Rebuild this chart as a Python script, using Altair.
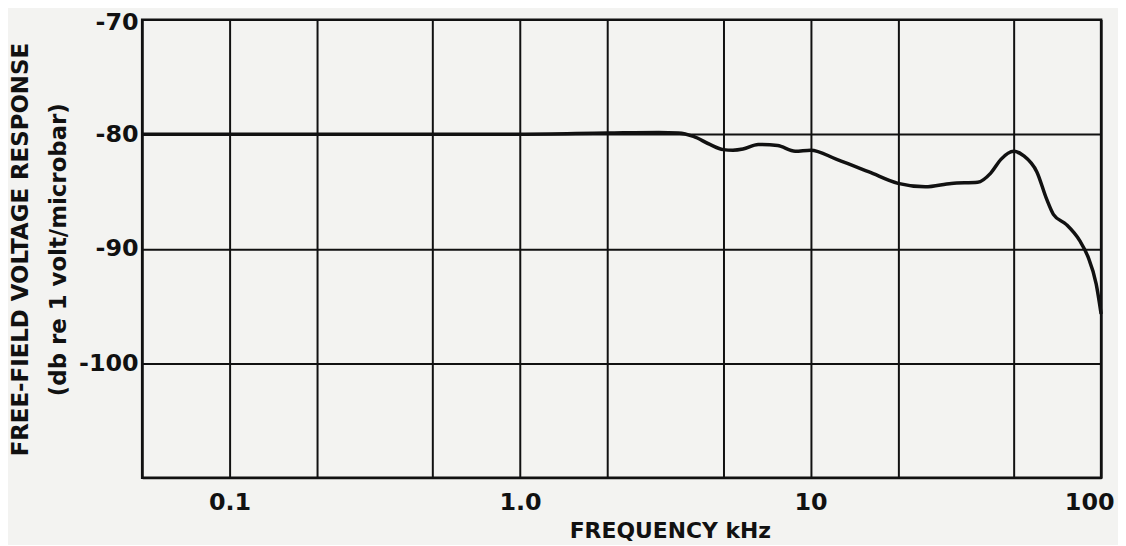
import altair as alt
import pandas as pd

# Curve (frequency in kHz, response in dB)
freq_khz = [0.05, 0.1, 0.5, 1.0, 2.0, 3.0, 3.5, 3.95, 4.5, 5.0, 5.4, 5.85, 6.6, 7.7, 8.85,
            10.0, 12.3, 15.9, 20.0, 24.8, 30.5, 37.6, 41.7, 45.2, 50.0, 54.2, 60.1,
            65.0, 68.5, 76.0, 84.4, 90.1, 96.2, 100.0]
response_db = [-80.0, -80.0, -80.0, -80.0, -79.9, -79.85, -79.9, -80.2, -80.9, -81.35, -81.4,
               -81.3, -80.9, -81.0, -81.5, -81.4, -82.2, -83.3, -84.3, -84.6, -84.3,
               -84.2, -83.4, -82.2, -81.5, -81.9, -83.3, -85.7, -87.0, -87.9, -89.3,
               -90.7, -93.1, -95.7]

x_grid_values = [0.05, 0.1, 0.2, 0.5, 1, 2, 5, 10, 20, 50, 100]
x_label_values = [0.1, 1, 10, 100]
x_label_text = ["0.1", "1.0", "10", "100"]
y_grid_values = [-70, -80, -90, -100, -110]
y_label_values = [-70, -80, -90, -100]
y_label_text = ["-70", "-80", "-90", "-100"]

x_title = "FREQUENCY kHz"
y_title = ["FREE-FIELD VOLTAGE RESPONSE", "(db re 1 volt/microbar)"]


def label_expr(values, texts):
    parts = [f"datum.value == {v} ? '{t}'" for v, t in zip(values, texts)]
    return " : ".join(parts) + " : ''"


df = pd.DataFrame({"f": freq_khz, "db": response_db})

FONT = "DejaVu Sans"
INK = "#111111"

chart = alt.Chart(df).mark_line(
    color=INK, strokeWidth=3.5, interpolate="monotone"
).encode(
    x=alt.X(
        "f:Q",
        scale=alt.Scale(type="log", domain=[0.05, 100], nice=False),
        axis=alt.Axis(
            values=x_grid_values,
            labelExpr=label_expr(x_label_values, x_label_text),
            title=x_title,
            grid=True,
            ticks=False,
            domain=False,
            labelPadding=13,
            labelFontSize=24,
            labelFont=FONT,
            labelFontWeight="bold",
            labelColor=INK,
            labelFlush=False,
            labelOverlap=False,
            labelOffset={"condition": {"test": "datum.value == 100", "value": -12}, "value": 0},
            titleFont=FONT,
            titleFontSize=22,
            titleFontWeight="bold",
            titleColor=INK,
            titleX=531,
            titleY=60,
            titleBaseline="alphabetic",
            titleAlign="center",
        ),
    ),
    y=alt.Y(
        "db:Q",
        scale=alt.Scale(domain=[-110, -70], nice=False, zero=False),
        axis=alt.Axis(
            values=y_grid_values,
            labelExpr=label_expr(y_label_values, y_label_text),
            title=y_title,
            grid=True,
            ticks=False,
            domain=False,
            labelPadding=4,
            labelFontSize=24,
            labelFont=FONT,
            labelFontWeight="bold",
            labelColor=INK,
            labelFlush=False,
            labelOverlap=False,
            labelOffset={"condition": {"test": "datum.value == -70", "value": 3}, "value": 0},
            titleFont=FONT,
            titleFontSize=23,
            titleFontWeight="bold",
            titleColor=INK,
            titleAngle=270,
            titleX=-133,
            titleY=231,
            titleBaseline="top",
            titleAlign="center",
            titleLineHeight=38,
        ),
    ),
).properties(
    width=965,
    height=461,
    autosize=alt.AutoSizeParams(type="none"),
    padding={"left": 135, "top": 10, "right": 17, "bottom": 66},
    background="#f3f3f1",
).configure_axis(
    gridColor=INK,
    gridWidth=2,
    gridOpacity=1,
).configure_view(
    stroke=INK,
    strokeWidth=2.5,
)

chart.save("out.html", embed_options={"renderer": "svg", "actions": False})
